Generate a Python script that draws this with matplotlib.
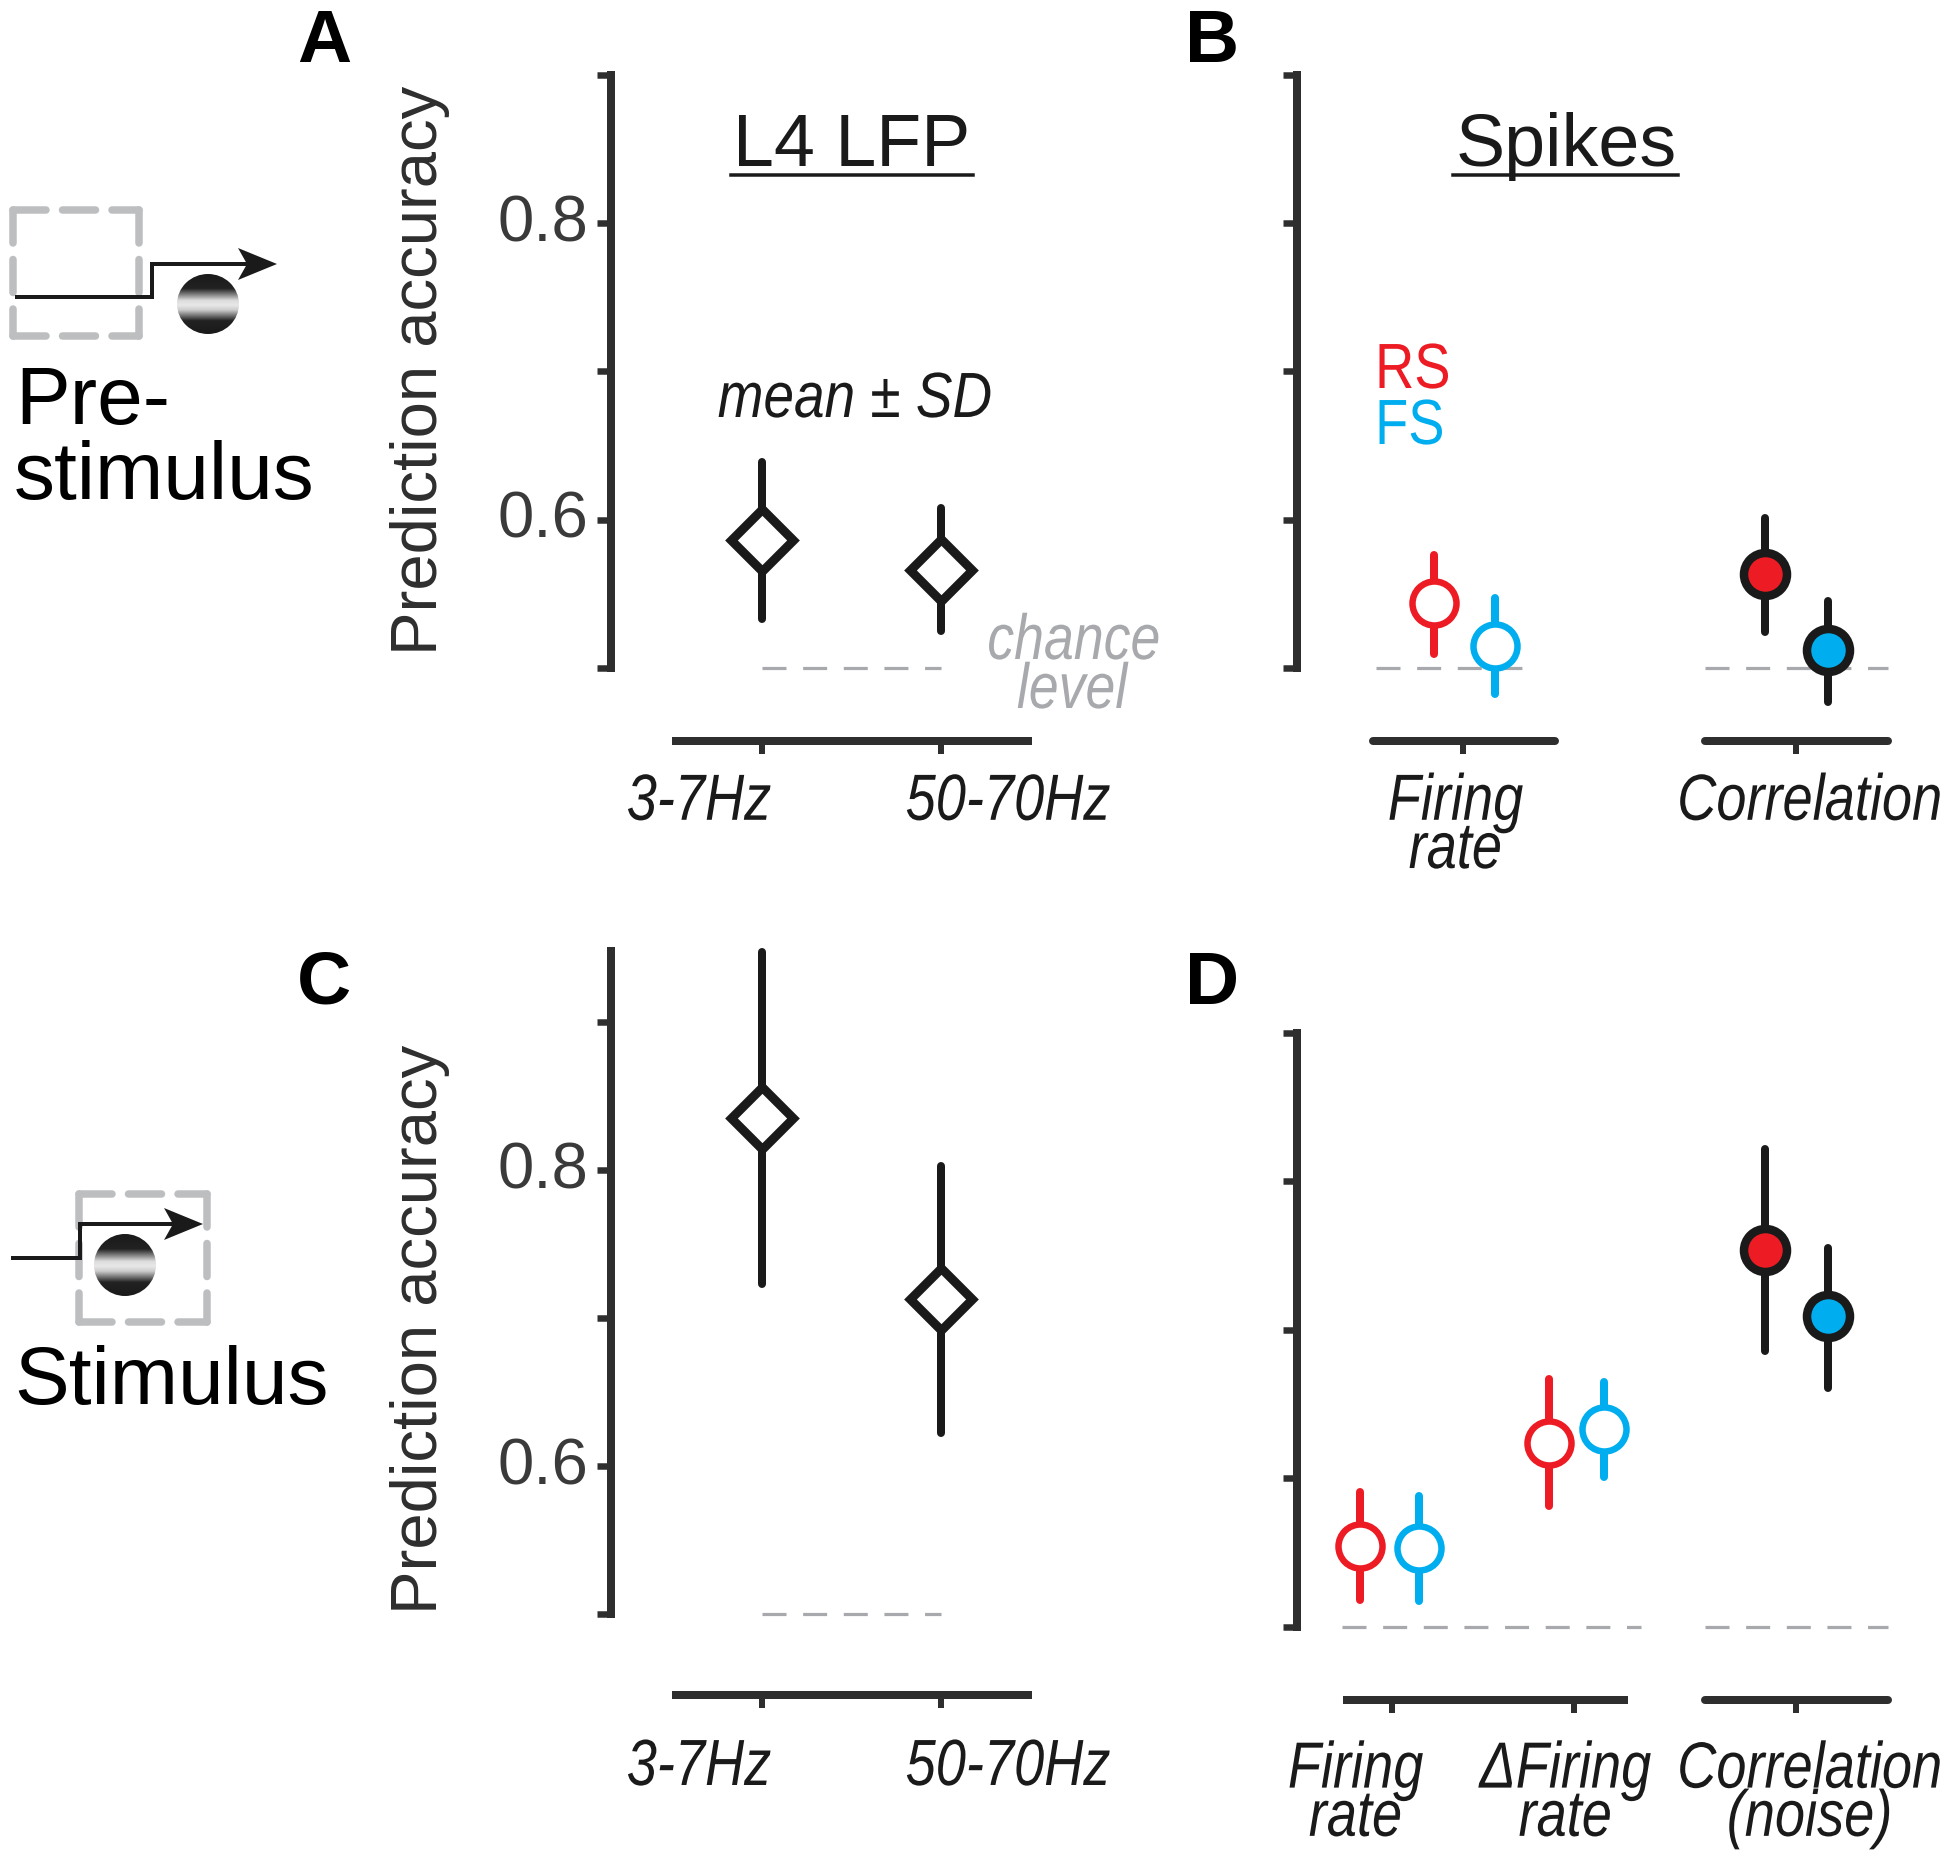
import numpy as np
import matplotlib
matplotlib.use("Agg")
import matplotlib.pyplot as plt
from matplotlib.patches import Ellipse, Polygon
from matplotlib.patheffects import AbstractPathEffect
from matplotlib.transforms import Affine2D, ScaledTranslation, blended_transform_factory
from matplotlib.colors import LinearSegmentedColormap

plt.rcParams['font.family'] = ['Liberation Sans', 'DejaVu Sans']

# ---------------- data ----------------
a_labels = ['3-7Hz', '50-70Hz']
a_mean = [0.586, 0.566]
a_hi = [0.639, 0.608]
a_lo = [0.533, 0.525]

c_labels = ['3-7Hz', '50-70Hz']
c_mean = [0.835, 0.713]
c_hi = [0.947, 0.803]
c_lo = [0.723, 0.622]

b_labels = ['Firing\nrate', 'Correlation']
b_rs_mean = [0.544, 0.563]
b_rs_hi = [0.576, 0.601]
b_rs_lo = [0.509, 0.524]
b_fs_mean = [0.515, 0.512]
b_fs_hi = [0.547, 0.545]
b_fs_lo = [0.482, 0.477]

d_labels = ['Firing\nrate', '\u0394Firing\nrate', 'Correlation\n(noise)']
d_rs_mean = [0.554, 0.624, 0.754]
d_rs_hi = [0.591, 0.667, 0.822]
d_rs_lo = [0.518, 0.581, 0.686]
d_fs_mean = [0.553, 0.633, 0.709]
d_fs_hi = [0.588, 0.665, 0.755]
d_fs_lo = [0.517, 0.601, 0.661]

y_ticks = [0.5, 0.6, 0.7, 0.8, 0.9]
chance = 0.5

# ---------------- style ----------------
W, H, DPI = 1950, 1859, 100
PT = 72 / DPI
DARK = '#2e2e2e'
INK = '#1a1a1a'
RED = '#ed1c24'
BLUE = '#00aeef'
GREY = '#a7a9ac'
BOX = '#bcbec0'


class Condense(AbstractPathEffect):
    """Narrow the glyphs of a text line about its own centre; the text stays a text."""

    def __init__(self, sx):
        super().__init__()
        self.sx = sx

    def draw_path(self, renderer, gc, tpath, affine, rgbFace=None):
        v = tpath.vertices
        cx = (v[:, 0].min() + v[:, 0].max()) / 2 if len(v) else 0
        t = Affine2D().translate(-cx, 0).scale(self.sx, 1).translate(cx, 0)
        renderer.draw_path(gc, t.transform_path(tpath), affine, rgbFace)


fig = plt.figure(figsize=(W / DPI, H / DPI), dpi=DPI, facecolor='white')


def make_axes(left, right, y_base, y_top, v_top, tick0, ticks, labels, label_dx,
              drop, segments, pad, ylabel_y, tick_labels_on):
    ax = fig.add_axes([left / W, 1 - y_base / H, (right - left) / W, (y_base - y_top) / H])
    ax.patch.set_alpha(0)
    ax.set_xlim(left - tick0, right - tick0)
    ax.set_ylim(0.5, v_top)
    for s in ('top', 'right'):
        ax.spines[s].set_visible(False)
    ax.spines['left'].set_bounds(0.5, v_top)
    ax.spines['left'].set_linewidth(8 * PT)
    ax.spines['left'].set_color(DARK)
    ax.spines['bottom'].set_position(('outward', drop * PT))
    ax.spines['bottom'].set_visible(False)
    ax.set_yticks(y_ticks)
    ax.set_yticklabels(['0.6' if abs(v - .6) < 1e-6 and tick_labels_on else
                        '0.8' if abs(v - .8) < 1e-6 and tick_labels_on else '' for v in y_ticks])
    ax.tick_params(axis='y', length=14 * PT, width=6.5 * PT, color=DARK, labelcolor='#3a3a3a',
                   labelsize=47, pad=8 * PT)
    for lab in ax.get_yticklabels():
        lab.set_transform(lab.get_transform() + ScaledTranslation(0, 5 / DPI, fig.dpi_scale_trans))
    ax.set_xticks(ticks)
    ax.set_xticklabels(labels, fontstyle='italic', fontsize=47, linespacing=0.75, color=INK)
    ax.tick_params(axis='x', length=13 * PT, width=6 * PT, color=DARK, pad=pad * PT)
    for lab, dx in zip(ax.get_xticklabels(), label_dx):
        lab.set_transform(lab.get_transform() + ScaledTranslation(dx / DPI, 0, fig.dpi_scale_trans))
        lab.set_path_effects([Condense(0.83)])
    tr = blended_transform_factory(ax.transData, ax.transAxes)
    y_ax = -drop / (y_base - y_top)
    for a, b, cap in segments:
        ax.plot([a - tick0, b - tick0], [y_ax, y_ax], transform=tr, color=DARK, lw=8 * PT,
                solid_capstyle=cap, clip_on=False)
    ax.set_xlim(left - tick0, right - tick0)
    ax.set_ylim(0.5, v_top)
    if ylabel_y is not None:
        ax.set_ylabel('Prediction accuracy', fontsize=47, color='#2e2e2e')
        ax.yaxis.set_label_coords((450 - left) / (right - left), ylabel_y)
    return ax


def chance_line(ax, x0, x1):
    ax.plot([x0, x1], [chance, chance], color=GREY, lw=3.2 * PT, clip_on=False, zorder=1,
            linestyle=(0, (7.5, 5.2)), dash_capstyle='butt')


def point(ax, x, m, hi, lo, bar, edge, face, marker, ms, mew, barw):
    ax.plot([x, x], [lo, hi], color=bar, lw=barw * PT, solid_capstyle='round', clip_on=False, zorder=3)
    ax.plot([x], [m], marker=marker, ms=ms * PT, mew=mew * PT, mec=edge, mfc=face, ls='none',
            clip_on=False, zorder=4)


# ---- panel A
axA = make_axes(610.6, 1060, 667.8, 74.6, 0.9, 762, [0, 179], a_labels, [-63, 67], 73,
                [(671.5, 1032, 'butt')], 19, 0.501, True)
# ---- panel C
axC = make_axes(610.6, 1060, 1614, 951, 0.948, 762, [0, 179], c_labels, [-63, 67], 81,
                [(671.5, 1032, 'butt')], 30, 0.429, True)
# ---- panel B
axB = make_axes(1297, 1900, 667.8, 74.6, 0.9, 1462.5, [0, 333.3], b_labels, [-7, 14], 73,
                [(1373, 1554.5, 'round'), (1705, 1888, 'round')], 19, None, False)
# ---- panel D
axD = make_axes(1297, 1900, 1626.6, 1033, 0.9, 1391.6, [0, 182.8, 404.2], d_labels, [-36, -9, 14], 73,
                [(1343, 1628, 'butt'), (1705, 1888, 'round')], 28, None, False)

for ax, mean, hi, lo, in ((axA, a_mean, a_hi, a_lo), (axC, c_mean, c_hi, c_lo)):
    chance_line(ax, 0, 179)
    for xp, m, h, l in zip([0, 179], mean, hi, lo):
        point(ax, xp, m, h, l, INK, INK, 'white', 'D', 44, 9, 8)

chance_line(axB, 1376 - 1462.5, 1556 - 1462.5 - 34)
chance_line(axB, 1705 - 1462.5, 1888 - 1462.5)
chance_line(axD, 1342 - 1391.6, 1641 - 1391.6)
chance_line(axD, 1705 - 1391.6, 1888 - 1391.6)

b_group = [0, 333.3]
b_rs_dx = [-29, -31]
b_fs_dx = [32, 32]
for i in range(2):
    filled = i == 1
    for xo, mm, hh, ll, col in ((b_rs_dx[i], b_rs_mean, b_rs_hi, b_rs_lo, RED),
                                (b_fs_dx[i], b_fs_mean, b_fs_hi, b_fs_lo, BLUE)):
        point(axB, b_group[i] + xo, mm[i], hh[i], ll[i],
              INK if filled else col, INK if filled else col,
              col if filled else 'white', 'o', 43 if filled else 44, 8.5 if filled else 6.5, 8)

d_group = [0, 182.8, 404.2]
d_rs_dx = [-32, -25, -31]
d_fs_dx = [27, 30, 32]
for i in range(3):
    filled = i == 2
    for xo, mm, hh, ll, col in ((d_rs_dx[i], d_rs_mean, d_rs_hi, d_rs_lo, RED),
                                (d_fs_dx[i], d_fs_mean, d_fs_hi, d_fs_lo, BLUE)):
        point(axD, d_group[i] + xo, mm[i], hh[i], ll[i],
              INK if filled else col, INK if filled else col,
              col if filled else 'white', 'o', 43 if filled else 44, 8.5 if filled else 6.5, 8)

# ---------------- overlay in figure pixels: texts and icons ----------------
ov = fig.add_axes([0, 0, 1, 1], zorder=10)
ov.patch.set_alpha(0)
ov.axis('off')


def T(x, y, s, sx=None, **k):
    k.setdefault('ha', 'center')
    k.setdefault('va', 'center')
    t = ov.text(x, y, s, **k)
    if sx:
        t.set_path_effects([Condense(sx)])
    return t


for x, y, s in ((324, 42, 'A'), (1212, 42, 'B'), (324, 984, 'C'), (1212, 984, 'D')):
    T(x, y, s, fontsize=54, fontweight='bold', color='black')

T(852, 146, 'L4 LFP', fontsize=53, color=INK)
ov.plot([731, 973], [175, 175], color=INK, lw=3.5 * PT)
T(1566, 146, 'Spikes', fontsize=53, color=INK)
ov.plot([1453, 1678], [175, 175], color=INK, lw=3.5 * PT)

T(855, 400, 'mean \u00b1 SD', sx=0.86, fontsize=46, fontstyle='italic', color=INK)
T(1074, 642, 'chance', sx=0.84, fontsize=46, fontstyle='italic', color=GREY)
T(1072, 691, 'level', sx=0.84, fontsize=46, fontstyle='italic', color=GREY)
T(1413, 371, 'RS', sx=0.85, fontsize=46, color=RED)
T(1410, 427, 'FS', sx=0.85, fontsize=46, color=BLUE)

T(15, 403, 'Pre-', fontsize=59, ha='left', color='black')
T(14, 478, 'stimulus', fontsize=59, ha='left', color='black')
T(14, 1383, 'Stimulus', fontsize=59, ha='left', color='black')


def dashed_box(x0, y0, x1, y1):
    style = (0, (4.4, 2.2))
    for xs, ys in (([x0, x1], [y0, y0]), ([x1, x1], [y0, y1]),
                   ([x0, x1], [y1, y1]), ([x0, x0], [y0, y1])):
        ov.plot(xs, ys, color=BOX, lw=7.5 * PT, linestyle=style, dash_capstyle='round', zorder=2)


def stim_arrow(pts, tip):
    xs, ys = zip(*pts)
    ov.plot(xs, ys, color=INK, lw=4 * PT, zorder=3, solid_joinstyle='miter')
    tx, ty = tip
    ov.add_patch(Polygon([(tx, ty), (tx - 39, ty - 16), (tx - 30, ty), (tx - 39, ty + 16)],
                         closed=True, fc=INK, ec='none', zorder=4))


grad = LinearSegmentedColormap.from_list('g', [(0, '#1a1a1a'), (0.24, '#222222'), (0.44, '#dddddd'),
                                               (0.52, '#e8e8e8'), (0.6, '#cccccc'),
                                               (0.78, '#222222'), (1, '#1a1a1a')])


def grating(cx, cy, rx, ry):
    im = ov.imshow(np.linspace(0, 1, 200)[:, None], cmap=grad, extent=(cx - rx, cx + rx, cy + ry, cy - ry),
                   aspect='auto', zorder=2, interpolation='bilinear')
    clip = Ellipse((cx, cy), 2 * rx, 2 * ry, transform=ov.transData, fc='none', ec='none')
    ov.add_patch(clip)
    im.set_clip_path(clip)


dashed_box(13, 210, 139, 336)
stim_arrow([(17, 297), (152, 297), (152, 264), (250, 264)], (277, 264))
grating(208, 304, 31, 30)

dashed_box(79, 1194, 207, 1322)
stim_arrow([(13, 1258), (80, 1258), (80, 1224), (175, 1224)], (203, 1224))
grating(125, 1265, 31, 31)

ov.set_xlim(0, W)
ov.set_ylim(H, 0)

fig.savefig('out.png', dpi=DPI, facecolor='white')
